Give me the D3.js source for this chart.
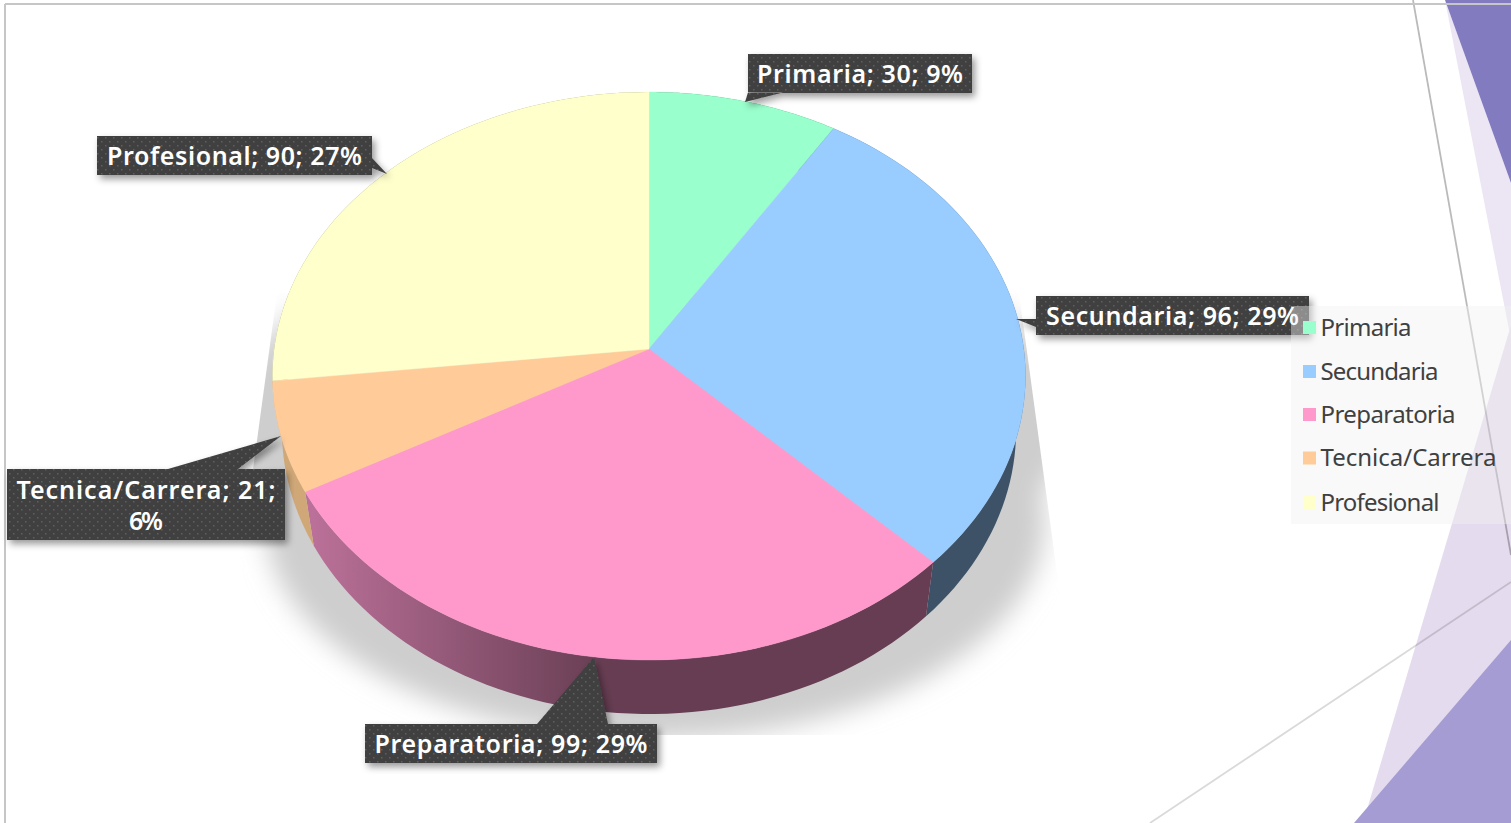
<!DOCTYPE html>
<html><head><meta charset="utf-8">
<script src="https://cdn.jsdelivr.net/npm/d3@7/dist/d3.min.js"></script>
<style>html,body{margin:0;padding:0;background:#fff;overflow:hidden}svg{display:block}text{font-family:"Noto Sans",sans-serif}</style>
</head><body><svg id="c" width="1511" height="823" role="img" aria-label="Pie chart"></svg>
<script>
// ---- data ----
const categories = ["Primaria","Secundaria","Preparatoria","Tecnica/Carrera","Profesional"];
const values = [30,96,99,21,90];
// ---- styling / layout ----
const colours = ["#99FFCC","#99CCFF","#FF99CC","#FFCC99","#FFFFCC"];
const wallColours = ["#3D6652","#3D5266","#663D52","#D0A878","#66664F"];
const labelBoxes = [
 {x:748,y:54,w:224,h:39,tip:[745,102],base:[[748,92.5],[783,92.5]],tw:206},
 {x:1036,y:296,w:273,h:39,tip:[1016,319],base:[[1036,319],[1036,327]],tw:253},
 {x:365,y:724,w:292,h:39,tip:[594,657],base:[[537,724],[608,724]],tw:273},
 {x:7,y:469,w:278,h:71,tip:[281,436],base:[[168,469],[238,469]],tw:259,wrap:true},
 {x:97,y:136,w:275,h:39,tip:[387,174],base:[[372,158],[372,168]],tw:255}
];
const legendWidths=[91,118,135,176,119];
const legendY=[327.5,371.5,414.5,458,502.5];

const svg=d3.select("#c");
const defs=svg.append("defs");
const pat=defs.append("pattern").attr("id","dots").attr("width",8).attr("height",8).attr("patternUnits","userSpaceOnUse");
pat.append("rect").attr("width",8).attr("height",8).attr("fill","#404040");
[[1,1],[5,5]].forEach(p=>pat.append("rect").attr("x",p[0]).attr("y",p[1]).attr("width",1.5).attr("height",1.5).attr("fill","#5e5e5e"));
const f1=defs.append("filter").attr("id","blur").attr("x","-20%").attr("y","-20%").attr("width","140%").attr("height","140%");
f1.append("feGaussianBlur").attr("stdDeviation",13);
const f2=defs.append("filter").attr("id","ds").attr("x","-10%").attr("y","-30%").attr("width","120%").attr("height","170%");
f2.append("feDropShadow").attr("dx",3).attr("dy",4).attr("stdDeviation",3.5).attr("flood-color","#000").attr("flood-opacity",.4);
const g=defs.append("linearGradient").attr("id","wallGrad").attr("gradientUnits","userSpaceOnUse").attr("x1",314).attr("x2",610).attr("y1",0).attr("y2",0);
g.append("stop").attr("offset",0).attr("stop-color","#BA7098");
g.append("stop").attr("offset",1).attr("stop-color","#663D52");
defs.append("clipPath").attr("id","shClip").append("path").attr("d","M277,293L1019,293L1079,735L217,735Z");

// ---- background decoration ----
const bg=svg.append("g");
const poly=(pts,fill)=>bg.append("path").attr("d",d3.line()(pts)+"Z").attr("fill",fill);
poly([[1445,0],[1511,340],[1511,183]],"#ECE5F3");
poly([[1511,325],[1363,823],[1511,823]],"#E5DBEE");
poly([[1354,823],[1511,640],[1511,823]],"#A49CD2");
poly([[1445,0],[1511,183],[1511,0]],"#827BBF");
const ln=(a,b,c,w)=>bg.append("line").attr("x1",a[0]).attr("y1",a[1]).attr("x2",b[0]).attr("y2",b[1]).attr("stroke",c).attr("stroke-width",w);
ln([1413,0],[1511,555],"#000",1.8).attr("stroke-opacity",.27);
ln([1150,823],[1511,582],"#000",1.8).attr("stroke-opacity",.15);
ln([5,4],[1511,4],"#C6C6C6",2);
ln([5,4],[5,823],"#C6C6C6",2);

// ---- perspective pie ----
const cx=649,k=-0.0951,A=374.8,B=281.4;
const project=(ang,sx,cy,b,kk,x0=cx)=>{const u=Math.sin(ang),v=-Math.cos(ang),w=1+kk*v;return [x0+sx*u/w,cy+b*v/w];};
const topRim=a=>project(a,A,349,B,k);
const botRim=a=>project(a,A*0.975,403,B,k);
const arcs=d3.pie().sort(null).value(d=>d)(values);
const color=d3.scaleOrdinal().domain(categories).range(colours);
const wall=d3.scaleOrdinal().domain(categories).range(wallColours);
const sampled=(s,e)=>d3.range(0,61).map(i=>s+(e-s)*i/60);
const line=d3.line();

// shadow
const shadowLower=d3.range(0,361,2).map(d=>project(d*Math.PI/180,372,456,198,-0.3,655));
const shadowUpper=d3.range(0,361,2).map(d=>project(d*Math.PI/180,420,420,200,0,650));
const sg=svg.append("g").attr("clip-path","url(#shClip)").append("g").attr("filter","url(#blur)");
sg.append("path").attr("d",line(shadowLower)+"Z").attr("fill","#CECECE");
sg.append("path").attr("d",line(shadowUpper)+"Z").attr("fill","#CECECE");

// side walls
const walls=svg.append("g");
arcs.forEach((d,i)=>{
  const as=sampled(d.startAngle,d.endAngle);
  const pts=as.map(topRim).concat(as.slice().reverse().map(botRim));
  walls.append("path").attr("d",line(pts)+"Z")
    .attr("fill",categories[i]==="Preparatoria"?"url(#wallGrad)":wall(categories[i]));
});
// faces
const faces=svg.append("g");
arcs.forEach((d,i)=>{
  const pts=[[cx,349]].concat(sampled(d.startAngle,d.endAngle).map(topRim));
  faces.append("path").attr("d",line(pts)+"Z").attr("fill",color(categories[i])).attr("stroke",color(categories[i])).attr("stroke-width",.4);
});

// ---- data labels ----
const total=d3.sum(values);
const labels=svg.append("g");
categories.forEach((c,i)=>{
  const b=labelBoxes[i], pct=Math.round(values[i]/total*100);
  const gg=labels.append("g").attr("filter","url(#ds)");
  gg.append("path").attr("d",`M${b.x},${b.y}h${b.w}v${b.h}h${-b.w}Z`+line([b.base[0],b.tip,b.base[1]])+"Z").attr("fill","url(#dots)");
  const mid=b.x+b.w/2;
  const txt=(s,y,tw)=>{const t=labels.append("text").attr("x",mid).attr("y",y).attr("text-anchor","middle").attr("fill","#fff").attr("font-size",25).attr("font-weight",600).text(s);if(tw)t.attr("textLength",tw).attr("lengthAdjust","spacing");};
  if(b.wrap){txt(`${c}; ${values[i]};`,b.y+30,b.tw);txt(`${pct}%`,b.y+61,34);}
  else txt(`${c}; ${values[i]}; ${pct}%`,b.y+29,b.tw);
});

// ---- legend ----
const lg=svg.append("g");
lg.append("rect").attr("x",1291).attr("y",306).attr("width",220).attr("height",218).attr("fill","#F2F2F2").attr("fill-opacity",.43);
categories.forEach((c,i)=>{
  lg.append("rect").attr("x",1303).attr("y",legendY[i]-6.5).attr("width",13).attr("height",13).attr("fill",color(c));
  lg.append("text").attr("x",1320.5).attr("y",legendY[i]+8).attr("font-size",24).attr("fill","#404040").attr("textLength",legendWidths[i]).attr("lengthAdjust","spacing").text(c);
});
</script></body></html>
